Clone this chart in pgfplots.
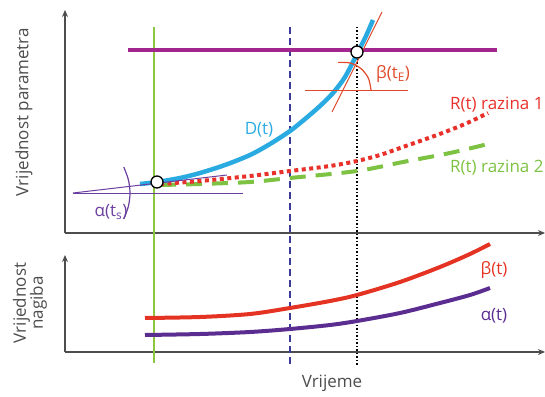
\documentclass[border=0pt]{standalone}
\usepackage{pgfplots}
\pgfplotsset{compat=1.18}
\usepackage{fontspec}
\setmainfont{Open Sans}
\usetikzlibrary{arrows.meta}
\definecolor{axgray}{HTML}{4D4D4D}
\definecolor{vgreen}{HTML}{8DC63F}
\definecolor{magen}{HTML}{A3268F}
\definecolor{navy}{HTML}{3B3B9B}
\definecolor{dblue}{HTML}{29ABE2}
\definecolor{rred}{HTML}{E8312A}
\definecolor{rgreen}{HTML}{7DC242}
\definecolor{purp}{HTML}{6B3FA0}
\definecolor{tred}{HTML}{E04A2A}
\definecolor{bred}{HTML}{E53323}
\definecolor{apurp}{HTML}{5B2D91}
\newcommand{\lbl}{\fontsize{17}{19}\selectfont}
\begin{document}
\begin{tikzpicture}
\begin{axis}[at={(0,0)},anchor=south west,scale only axis,width=545pt,height=396pt,
  xmin=0,xmax=545,ymin=0,ymax=396,y dir=reverse,hide axis,clip=false]
% axes
\addplot[axgray,line width=1.5pt,-{Stealth[length=7pt,width=6pt]}] coordinates {(65,233) (65,10)};
\addplot[axgray,line width=1.5pt,-{Stealth[length=7pt,width=6pt]}] coordinates {(65,233) (545,233)};
\addplot[axgray,line width=1.5pt,-{Stealth[length=7pt,width=6pt]}] coordinates {(65,352) (65,255)};
\addplot[axgray,line width=1.5pt,-{Stealth[length=7pt,width=6pt]}] coordinates {(65,352) (545,352)};
% verticals
\addplot[vgreen,line width=2pt] coordinates {(154,27) (154,363)};
\addplot[navy,line width=1.6pt,dash pattern=on 7pt off 4pt] coordinates {(290,27) (290,365)};
\addplot[black,line width=1.3pt,dash pattern=on 1.5pt off 2pt] coordinates {(357,27) (357,365)};
% magenta threshold
\addplot[magen,line width=3pt] coordinates {(128,50) (497,50)};
% R(t) level 2
\addplot[rgreen,line width=4pt,dash pattern=on 16pt off 10pt,smooth] coordinates {
(160,185) (200,184) (250,182) (290,178) (357,171) (403,162) (450,153) (488,144)};
% R(t) level 1
\addplot[rred,line width=4pt,dash pattern=on 4pt off 3.5pt,smooth] coordinates {
(160,184) (200,181) (250,176) (290,171) (330,166) (357,161) (380,155) (403,147) (437,135) (465,124) (488,113)};
% D(t)
\addplot[dblue,line width=4.5pt,smooth] coordinates {
(140,184) (157,182) (180,178) (200,173) (225,165) (250,155) (270,144) (290,131) (305,119) (320,106) (333,93) (345,77) (357,54) (366,36) (373,20)};
% alpha tangent lines
\addplot[purp,line width=1pt] coordinates {(73,193) (243,193)};
\addplot[purp,line width=1pt] coordinates {(73,193) (227,175)};
\addplot[purp,line width=1.2pt,smooth] coordinates {(123.8,167.1) (128.4,179.7) (130,193) (128.4,206.3) (123.8,218.9)};
% beta tangent lines
\addplot[tred,line width=1pt] coordinates {(305,90) (408,90)};
\addplot[tred,line width=1pt] coordinates {(332,112) (382,12)};
\addplot[tred,line width=1.2pt,smooth] coordinates {(338.1,62.4) (350.2,63.0) (361,68.6) (368.4,78.2) (371,90)};
% circles
\addplot[only marks,mark=*,mark size=6pt,mark options={fill=white,draw=black,line width=1.3pt}] coordinates {(157,182) (357,52)};
% lower curves
\addplot[bred,line width=4pt,smooth] coordinates {
(145,318) (200,317) (250,314) (290,308) (330,301) (357,295) (400,282) (440,267) (470,254) (490,244)};
\addplot[apurp,line width=4pt,smooth] coordinates {
(145,335) (200,334) (250,332) (290,329) (330,325) (357,321) (400,313) (440,303) (470,295) (490,288)};
% labels
\node[text=axgray,font=\lbl,rotate=90] at (axis cs:24,112) {Vrijednost parametra};
\node[text=axgray,font=\fontsize{17}{17}\selectfont,rotate=90,align=center] at (axis cs:30,303) {Vrijednost\\nagiba};
\node[text=axgray,font=\lbl] at (axis cs:332,383) {Vrijeme};
\node[text=dblue,font=\lbl] at (axis cs:259,130) {D(t)};
\node[text=rred,font=\lbl,anchor=west,inner sep=0pt] at (axis cs:450,105) {R(t) razina 1};
\node[text=rgreen,font=\lbl,anchor=west,inner sep=0pt] at (axis cs:450,168) {R(t) razina 2};
\node[text=purp,font=\lbl] at (axis cs:111,212) {α(t\textsubscript{s})};
\node[text=tred,font=\lbl] at (axis cs:393,74) {β(t\textsubscript{E})};
\node[text=bred,font=\lbl] at (axis cs:494,270) {β(t)};
\node[text=apurp,font=\lbl] at (axis cs:494,316) {α(t)};
\end{axis}
\pgfresetboundingbox
\path[use as bounding box] (0,0) rectangle (545pt,396pt);
\end{tikzpicture}
\end{document}
